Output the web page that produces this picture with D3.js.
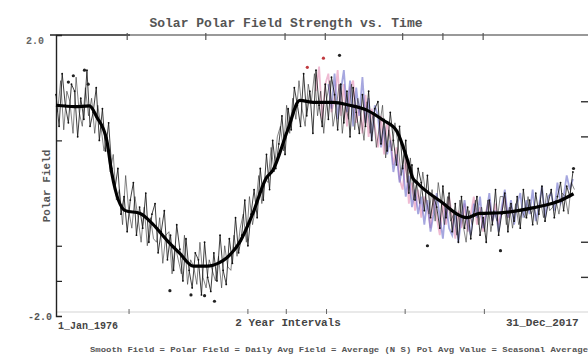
<!DOCTYPE html>
<html>
<head>
<meta charset="utf-8">
<script src="https://cdn.jsdelivr.net/npm/d3@7"></script>
<style>
  body { margin: 0; background: #fff; }
  svg { display: block; }
  text { font-family: "Liberation Mono", "DejaVu Sans Mono", monospace; font-weight: bold; }
</style>
</head>
<body>
<svg id="chart" width="588" height="354"></svg>
<script>
// ---- data ----
var titleText = "Solar Polar Field Strength vs. Time";
var yLabel = "Polar Field";
var xStartLabel = "1_Jan_1976", xMidLabel = "2 Year Intervals", xEndLabel = "31_Dec_2017";
var legendText = "Smooth Field = Polar Field = Daily Avg Field = Average (N S) Pol Avg Value = Seasonal Average";

var yTickVals = [1.0, 0.5, -1.0, -1.5];
var xTickYears = [1981.75, 1988.1, 1994.5, 1997.75, 2004.0, 2007.25, 2010.5];
var xBottomTicks = [1981.9, 1991.5, 1994.6, 1997.85, 2004.2, 2010.6];

// smoothed polar field (thick line)
var smoothYears = [1976.0, 1977.5, 1978.7, 1979.3, 1980.1, 1980.5, 1981.6, 1982.8, 1983.8, 1985.0, 1986.0,
  1987.1, 1988.2, 1989.2, 1989.8, 1990.9, 1991.9, 1993.0, 1993.5, 1994.7, 1995.7, 1996.8, 1998.4,
  1999.7, 2001.1, 2002.4, 2003.5, 2004.4, 2004.8, 2005.2, 2007.0, 2009.2, 2010.2, 2011.9, 2014.5,
  2016.7, 2017.8];
var smoothVals = [1.00, 0.98, 0.99, 0.83, 0.50, 0.04, -0.50, -0.54, -0.69, -0.93, -1.11,
  -1.29, -1.29, -1.24, -1.17, -0.93, -0.54, -0.03, 0.07, 0.64, 1.07, 1.04, 1.04,
  1.00, 0.93, 0.79, 0.64, 0.21, -0.03, -0.11, -0.36, -0.60, -0.54, -0.53, -0.46,
  -0.36, -0.26];

// raw polar field, quarterly from 1976.0
var rawStart = 1976.0;
var rawVals = [
  1.15, 0.7, 1.45, 1.0,     0.75, 1.3, 1.2, 0.55,   1.1, 0.8, 1.5, 0.7,     0.9, 1.25, 0.5, 0.95,
  0.35, 0.75, 0.1, -0.2,    0.1, -0.55, -0.3, -0.8, -0.35, -0.1, -0.85, -0.45, -0.75, -0.25, -0.95, -0.55,
  -0.4, -1.1, -0.8, -0.5,   -1.2, -0.85, -1.35, -0.7, -1.05, -1.5, -0.9, -1.35, -1.6, -1.1, -1.2, -1.7,
  -0.95, -1.45, -1.65, -1.1, -1.5, -0.85, -1.35, -1.55, -0.9, -1.25, -0.6, -1.1, -0.85, -0.35, -1.0, -0.55,
  -0.2, -0.6, 0.1, -0.35,   0.3, -0.2, 0.5, 0.1,    0.45, 0.85, 0.3, 0.95,  0.65, 1.25, 1.0, 0.7,
  1.45, 0.85, 1.2, 0.6,     1.5, 1.0, 0.7, 1.3,     0.8, 1.4, 1.15, 0.65,   1.3, 0.75, 1.2, 0.55,
  1.25, 0.9, 0.6, 1.15,     0.7, 1.2, 0.5, 0.95,    1.05, 0.45, 0.8, 0.35,  0.9, 0.5, 0.15, 0.7,
  0.1, 0.5, -0.25, 0.15,    -0.35, 0.1, -0.1, -0.5, 0.0, -0.6, -0.3, -0.45, -0.75, -0.15, -0.6, -0.25,
  -0.8, -0.4, -0.95, -0.3,  -0.75, -0.45, -0.9, -0.55, -0.3, -0.85, -0.6, -0.95, -0.35, -0.7, -0.2, -0.85,
  -0.55, -0.25, -0.8, -0.4, -0.65, -0.3, -0.75, -0.2, -0.6, -0.35, -0.7, -0.25, -0.55, -0.15, -0.65, -0.4,
  -0.2, -0.6, -0.3, -0.1,   -0.5, -0.15, -0.3, 0.05
];

// daily average field, quarterly from 1976.125
var avgStart = 1976.125;
var avgVals = [
  0.9, 1.35, 0.65, 1.2,     1.05, 0.6, 1.4, 0.9,    0.7, 1.25, 0.85, 1.1,   0.6, 1.0, 0.7, 0.35,
  0.55, 0.05, 0.3, -0.35,   -0.2, -0.7, 0.0, -0.5,  -0.75, -0.3, -0.6, -0.95, -0.45, -1.0, -0.6, -0.9,
  -0.95, -0.6, -1.25, -0.85, -0.8, -1.4, -1.0, -1.2, -1.4, -0.85, -1.55, -1.2, -1.3, -1.55, -0.95, -1.45,
  -1.6, -1.2, -1.35, -1.5,  -1.15, -1.6, -1.0, -1.3, -1.35, -0.85, -1.15, -0.75, -0.55, -0.95, -0.3, -0.7,
  -0.45, 0.0, -0.4, -0.05,  -0.1, 0.4, 0.05, 0.55,  0.7, 0.35, 1.0, 0.6,    1.1, 0.8, 1.35, 0.95,
  0.7, 1.3, 1.05, 1.45,     0.85, 1.2, 0.6, 1.1,    1.35, 0.7, 0.95, 1.3,   0.6, 1.0, 0.8, 1.3,
  0.65, 1.1, 0.85, 0.5,     1.05, 0.6, 0.9, 0.4,    0.7, 1.0, 0.25, 0.65,   0.35, 0.75, 0.45, 0.0,
  0.35, -0.1, 0.25, -0.35,  -0.1, -0.4, 0.05, -0.3, -0.55, -0.2, -0.65, -0.1, -0.4, -0.7, -0.3, -0.65,
  -0.55, -0.85, -0.35, -0.7, -0.95, -0.5, -0.7, -0.35, -0.7, -0.45, -0.8, -0.35, -0.8, -0.5, -0.65, -0.3,
  -0.3, -0.7, -0.45, -0.75, -0.4, -0.7, -0.5, -0.6, -0.3, -0.55, -0.45, -0.7, -0.35, -0.6, -0.25, -0.5,
  -0.45, -0.35, -0.55, -0.25, -0.3, -0.55, -0.1, -0.2
];

// north pole field (pink), quarterly from 1997.0
var northStart = 1997.0;
var northVals = [
  1.2, 1.55, 0.8, 1.3,      1.45, 0.9, 1.1, 1.5,    0.85, 1.3, 0.7, 1.25,   1.35, 0.75, 1.0, 0.6,
  1.15, 0.55, 0.95, 0.7,    0.4, 0.85, 0.3, 0.75,   0.55, 0.15, 0.4, -0.05, -0.2, 0.25, -0.4, -0.1,
  -0.5, -0.2, -0.6, -0.3,   -0.45, -0.75, -0.3, -0.6, -0.85, -0.4, -0.7, -0.3, -0.6, -0.9, -0.5, -0.75,
  -0.4, -0.8, -0.55, -0.3,  -0.7, -0.45, -0.8, -0.5, -0.35, -0.65, -0.4, -0.7, -0.5, -0.3, -0.6, -0.45
];

// south pole field (blue), quarterly from 1998.0
var southStart = 1998.0;
var southVals = [
  1.3, 0.95, 1.45, 0.8,     1.2, 1.5, 0.9, 1.35,    0.7, 1.25, 0.85, 1.4,   0.75, 1.1, 0.5, 1.0,
  0.85, 0.4, 0.7, 0.3,      0.5, 0.05, 0.3, -0.1,   0.15, -0.3, 0.0, -0.45, -0.2, -0.55, -0.3, -0.7,
  -0.35, -0.8, -0.55, -0.25, -0.6, -0.9, -0.4, -0.75, -0.85, -0.5, -0.95, -0.6, -0.35, -0.7, -0.85, -0.4,
  -0.6, -0.3, -0.75, -0.55, -0.25, -0.65, -0.5, -0.8, -0.45, -0.2, -0.6, -0.35, -0.7, -0.4, -0.25, -0.6,
  -0.35, -0.55, -0.2, -0.65, -0.45, -0.15, -0.6, -0.3, -0.25, -0.5, -0.1, -0.4, -0.3, 0.0, -0.2, -0.05
];

// isolated extreme readings (dots)
var spikeYears = [1977.0, 1977.4, 1978.3, 1978.6, 1985.2, 1986.9, 1988.0, 1988.8, 1996.3, 1997.6, 1998.9, 2006.0, 2011.9, 2017.8];
var spikeVals  = [1.33, 1.42, 1.50, 1.30, -1.64, -1.70, -1.71, -1.79, 1.54, 1.67, 1.71, -1.00, -1.07, 0.10];
var spikeHot   = [0, 0, 0, 0, 0, 0, 0, 0, 1, 1, 0, 0, 0, 0];

// ---- drawing ----
var svg = d3.select("#chart");
var x = d3.scaleLinear().domain([1976, 2018]).range([56, 576]);
var y = d3.scaleLinear().domain([-2, 2]).range([316, 35]);

function series(start, vals) {
  return vals.map(function(v, i) { return [start + i * 0.25, v]; });
}
var line = d3.line().x(function(d) { return x(d[0]); }).y(function(d) { return y(d[1]); });

// title
svg.append("text").attr("x", 286).attr("y", 27).attr("text-anchor", "middle")
  .attr("font-size", 13).attr("fill", "#555").text(titleText);

// top frame line with ticks
svg.append("line").attr("x1", 50).attr("x2", 588).attr("y1", y(2)).attr("y2", y(2))
  .attr("stroke", "#777").attr("stroke-width", 1.4);
svg.append("line").attr("x1", 50).attr("x2", 130).attr("y1", y(2)).attr("y2", y(2))
  .attr("stroke", "#444").attr("stroke-width", 1.6);
svg.append("g").selectAll("line").data(xTickYears).enter().append("line")
  .attr("x1", function(d) { return x(d); }).attr("x2", function(d) { return x(d); })
  .attr("y1", y(2) - 2).attr("y2", y(2) + 5)
  .attr("stroke", "#555").attr("stroke-width", 1.2);

// faint bottom line with ticks
svg.append("line").attr("x1", 56).attr("x2", 588).attr("y1", 312).attr("y2", 312)
  .attr("stroke", "#e2e2e2").attr("stroke-width", 1.5);
svg.append("g").selectAll("line").data(xBottomTicks).enter().append("line")
  .attr("x1", function(d) { return x(d); }).attr("x2", function(d) { return x(d); })
  .attr("y1", 309).attr("y2", 314)
  .attr("stroke", "#666").attr("stroke-width", 1);

// left axis
var yAxis = d3.axisRight(y).tickValues(yTickVals).tickSize(6).tickFormat("");
var gy = svg.append("g").attr("transform", "translate(56,0)").call(yAxis);
gy.select(".domain").attr("stroke", "#222").attr("stroke-width", 1.4);
gy.selectAll(".tick line").attr("stroke", "#222").attr("stroke-width", 1.2);

// right ticks
var yAxisR = d3.axisLeft(y).tickValues(yTickVals).tickSize(7).tickFormat("");
var gr = svg.append("g").attr("transform", "translate(588,-4)").call(yAxisR);
gr.select(".domain").remove();
gr.selectAll(".tick line").attr("stroke", "#333").attr("stroke-width", 1.4);

// axis labels
svg.append("text").attr("x", 44).attr("y", 44).attr("text-anchor", "end")
  .attr("font-size", 10).attr("fill", "#666").text("2.0");
svg.append("text").attr("x", 52).attr("y", 320).attr("text-anchor", "end")
  .attr("font-size", 10).attr("fill", "#555").text("-2.0");
svg.append("text").attr("transform", "translate(50,186) rotate(-90)").attr("text-anchor", "middle")
  .attr("font-size", 11).attr("fill", "#555").text(yLabel);
svg.append("text").attr("x", 58).attr("y", 329).attr("font-size", 10).attr("fill", "#444").text(xStartLabel);
svg.append("text").attr("x", 288).attr("y", 326).attr("text-anchor", "middle")
  .attr("font-size", 11).attr("fill", "#444").text(xMidLabel);
svg.append("text").attr("x", 506).attr("y", 326).attr("font-size", 11).attr("fill", "#444").text(xEndLabel);

// legend
svg.append("text").attr("x", 90).attr("y", 352).attr("font-size", 6.3).attr("fill", "#555")
  .attr("textLength", 498).attr("lengthAdjust", "spacingAndGlyphs").text(legendText);

// coloured pole series
svg.append("path").datum(series(northStart, northVals)).attr("d", line)
  .attr("fill", "none").attr("stroke", "#e48db5").attr("stroke-width", 1.8).attr("opacity", 0.6);
svg.append("path").datum(series(southStart, southVals)).attr("d", line)
  .attr("fill", "none").attr("stroke", "#5d5fc4").attr("stroke-width", 1.8).attr("opacity", 0.55);

// raw black series
svg.append("path").datum(series(avgStart, avgVals)).attr("d", line)
  .attr("fill", "none").attr("stroke", "#333").attr("stroke-width", 0.8).attr("opacity", 0.75);
svg.append("path").datum(series(rawStart, rawVals)).attr("d", line)
  .attr("fill", "none").attr("stroke", "#111").attr("stroke-width", 0.9).attr("opacity", 0.9);

// dots on the raw series
svg.append("g").selectAll("circle").data(series(rawStart, rawVals)).enter().append("circle")
  .attr("cx", function(d) { return x(d[0]); }).attr("cy", function(d) { return y(d[1]); })
  .attr("r", 0.9).attr("fill", "#111");

// spikes
svg.append("g").selectAll("circle").data(spikeYears).enter().append("circle")
  .attr("cx", function(d) { return x(d); })
  .attr("cy", function(d, i) { return y(spikeVals[i]); })
  .attr("r", 1.6)
  .attr("fill", function(d, i) { return spikeHot[i] ? "#c0393f" : "#222"; });

// smoothed field
svg.append("path").datum(smoothYears.map(function(t, i) { return [t, smoothVals[i]]; }))
  .attr("d", line.curve(d3.curveMonotoneX))
  .attr("fill", "none").attr("stroke", "#000").attr("stroke-width", 3.2)
  .attr("stroke-linejoin", "round");
</script>
</body>
</html>
